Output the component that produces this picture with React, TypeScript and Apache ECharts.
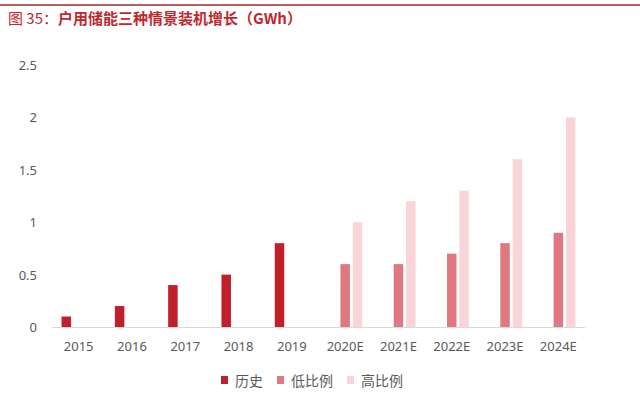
import React, { useEffect, useRef } from "react";
import * as echarts from "echarts";

const categories = ["2015", "2016", "2017", "2018", "2019", "2020E", "2021E", "2022E", "2023E", "2024E"];
const historyValues = [0.1, 0.2, 0.4, 0.5, 0.8, null, null, null, null, null];
const lowValues = [null, null, null, null, null, 0.6, 0.6, 0.7, 0.8, 0.9];
const highValues = [null, null, null, null, null, 1.0, 1.2, 1.3, 1.6, 2.0];
const seriesNames = ["历史", "低比例", "高比例"];
const titleText = "户用储能三种情景装机增长（GWh）";
const titlePrefix = "图 35：";

export default function App() {
  const ref = useRef<HTMLDivElement>(null);
  useEffect(() => {
    if (!ref.current) return;
    const chart = echarts.init(ref.current, null, { renderer: "svg" });
    const font = "'Noto Sans', 'Noto Sans CJK SC', sans-serif";
    chart.setOption({
      animation: false,
      backgroundColor: "#ffffff",
      textStyle: { fontFamily: font },
      graphic: [
        {
          type: "line",
          shape: { x1: 0, y1: 5, x2: 640, y2: 5 },
          style: { stroke: "#9E2A2B", lineWidth: 1.5 },
        },
        {
          type: "text",
          left: 8,
          top: 10,
          style: {
            text: "{a|" + titlePrefix + "}{b|" + titleText + "}",
            rich: {
              a: { fontSize: 15, fontWeight: "normal", fill: "#C0282D", fontFamily: "'Noto Sans CJK SC', sans-serif" },
              b: { fontSize: 15, fontWeight: "bold", fill: "#C0282D", fontFamily: "'Noto Sans CJK SC', sans-serif" },
            },
          },
        },
      ],
      legend: {
        data: seriesNames,
        bottom: 6,
        left: 216,
        icon: "rect",
        itemWidth: 7,
        itemHeight: 8,
        itemGap: 14,
        textStyle: { fontSize: 14, color: "#595959", fontFamily: "'Noto Sans CJK SC', sans-serif", padding: [0, 0, 0, 2] },
      },
      grid: { left: 52, right: 55, top: 65, bottom: 71 },
      xAxis: {
        type: "category",
        data: categories,
        axisLine: { lineStyle: { color: "#D9D9D9", width: 1 } },
        axisTick: { show: false },
        axisLabel: { fontSize: 13, color: "#595959", margin: 12, fontFamily: font },
      },
      yAxis: {
        type: "value",
        min: 0,
        max: 2.5,
        interval: 0.5,
        axisLine: { show: false },
        axisTick: { show: false },
        splitLine: { show: false },
        axisLabel: { fontSize: 13, color: "#595959", margin: 15, fontFamily: font },
      },
      series: [
        { name: seriesNames[0], type: "bar", data: historyValues, barWidth: 9.5, barGap: "30%", itemStyle: { color: "#C0202A" } },
        { name: seriesNames[1], type: "bar", data: lowValues, barWidth: 9.5, barGap: "30%", itemStyle: { color: "#E07880" } },
        { name: seriesNames[2], type: "bar", data: highValues, barWidth: 9.5, barGap: "30%", itemStyle: { color: "#F9D5D8" } },
      ],
    });
    return () => chart.dispose();
  }, []);
  return <div ref={ref} style={{ width: 640, height: 398, position: "absolute", left: 0, top: 0 }} />;
}
